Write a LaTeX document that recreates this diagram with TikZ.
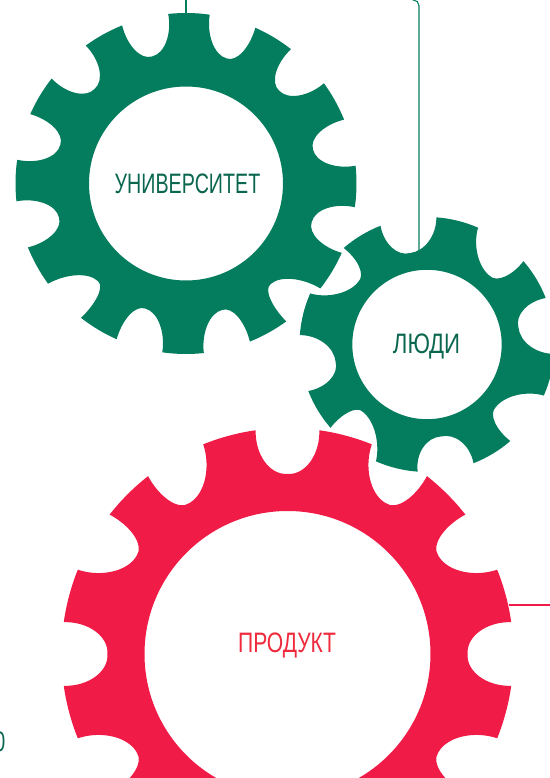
\documentclass[tikz,border=0pt]{standalone}
\usepackage{fontspec}
\usepackage{xcolor}
\newfontfamily\gearfont[FakeStretch=0.7]{Liberation Sans}
\definecolor{geargreen}{HTML}{047C5E}
\definecolor{gearred}{HTML}{F01C47}
\definecolor{textgreen}{HTML}{0B6650}
\definecolor{textred}{HTML}{EE2A3C}
\tikzset{
  gearlabel/.style={font=\gearfont\fontsize{20}{24}\selectfont,anchor=base,inner sep=0pt},
  wire/.style={line width=0.75pt},
}
% center, first notch angle, notches angle/tilt
\newcommand{\gearshape}[4]{
  \fill[#1,even odd rule,shift={(#2)}] (#3-\hw:\rout)
    \foreach \a/\t in {#4} {
      .. controls ({\a-1.14*\hw+max(\t,0)/2}:{\rout-0.51*(\rout-\rbot)}) and ({\a+\t-0.72*\hw-min(\t,0)/2}:\rbot) .. ({\a+\t}:\rbot)
      .. controls ({\a+\t+0.72*\hw-max(\t,0)/2}:\rbot) and ({\a+1.14*\hw+min(\t,0)/2}:{\rout-0.51*(\rout-\rbot)}) .. ({\a+\hw}:\rout)
      arc[start angle={\a+\hw},delta angle={\stp-2*\hw},radius=\rout]
    } -- cycle
    (0,0) circle[radius=\rhole];
}

\begin{document}
\begin{tikzpicture}[x=0.025cm,y=0.025cm]
  \useasboundingbox (0,0) rectangle (550,778);

  \def\rout{170.5}\def\rbot{131.5}\def\rhole{97}\def\hw{8}\def\stp{30}
  \gearshape{geargreen}{186,594.5}{-166}{-166/1,-136/4,-106/-2,-76/2,-46/-4,-16/-1,14/1,44/1,74/-2,104/1,134/0,164/-1}

  \def\rout{127.5}\def\rbot{93}\def\rhole{74.7}\def\hw{12.8}\def\stp{45}
  \gearshape{geargreen}{427,433.5}{-171.4}{-171.4/2,-126.4/-7,-81.4/0,-36.4/-6,8.6/2,53.6/-6,98.6/2,143.6/-6}

  \def\rout{226}\def\rbot{180}\def\rhole{143}\def\hw{8.1}\def\stp{30}
  \gearshape{gearred}{287.5,124}{-150}{-150/3,-120/0,-90/0,-60/0,-30/-3,0/0,30/3,60/-3,90/0,120/3,150/-3,180/0}

  \node[gearlabel,text=textgreen] (uni) at (187.5,584) {УНИВЕРСИТЕТ};
  \node[gearlabel,text=textgreen] (people) at (426.5,424) {\addfontfeature{FakeStretch=0.79}ЛЮДИ};
  \node[gearlabel,text=textred] (product) at (287,125) {\addfontfeature{FakeStretch=0.75}ПРОДУКТ};
  \node[gearlabel,text=textgreen,anchor=base east] (cutoff) at (5.5,26) {0};

  \coordinate (unitop) at (186,778);
  \coordinate (unigear) at (186,764);
  \coordinate (peopletop) at (415,778);
  \coordinate (peoplegear) at (419,526);
  \coordinate (productgear) at (509,173);
  \coordinate (productend) at (550,173);

  \draw[wire,geargreen] (unitop) -- (unigear);
  \draw[wire,geargreen,rounded corners=4pt] (peopletop) -- (419,778) -- (peoplegear);
  \draw[wire,gearred] (productgear) -- (productend);
\end{tikzpicture}
\end{document}
